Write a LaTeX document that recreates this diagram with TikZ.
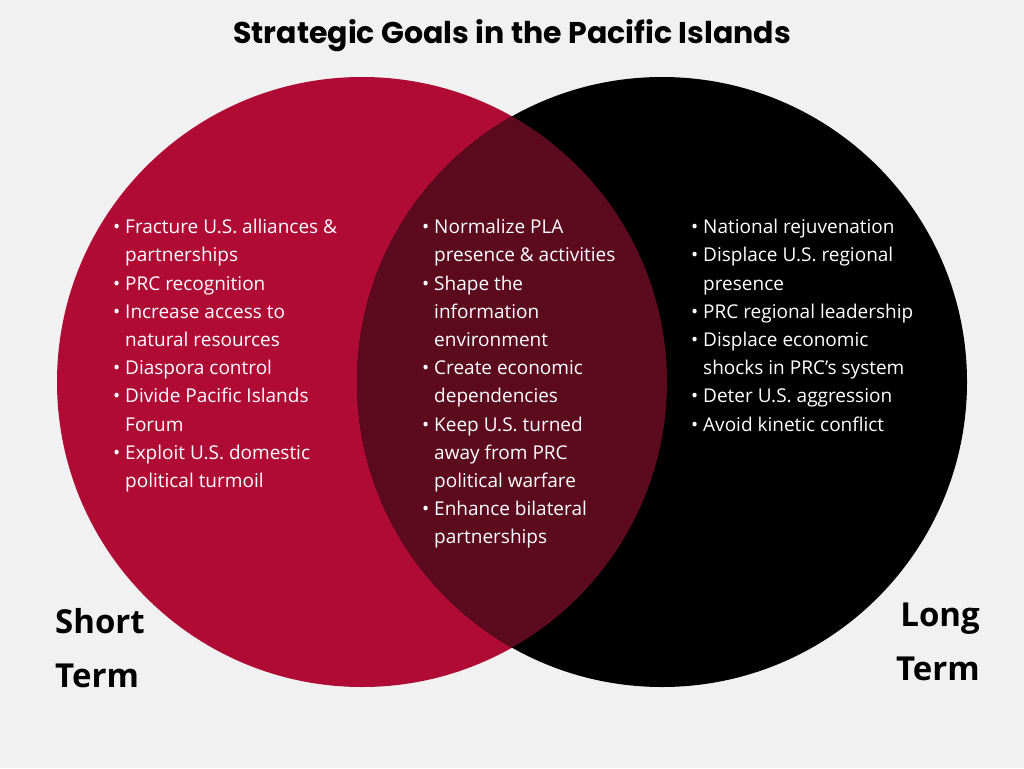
\documentclass[tikz,border=0pt]{standalone}
\usepackage{fontspec}
\setmainfont{Open Sans}
\newfontfamily\titlefont{Poppins}
\usepackage{enumitem}
\definecolor{bgray}{HTML}{F0F1F0}
\definecolor{goalred}{HTML}{B00B35}
\definecolor{overlapred}{HTML}{5C0A1E}
\setlist[itemize]{leftmargin=18pt,itemsep=0pt,topsep=0pt,parsep=0pt,label=\textbullet}
\begin{document}
\begin{tikzpicture}[x=1pt,y=-1pt,
    goallist/.style={anchor=north west,text=white,font=\fontsize{19}{28.2}\selectfont,inner sep=0pt,align=left},
    termlabel/.style={font=\fontsize{33}{54}\selectfont\bfseries,inner sep=0pt}]
  \fill[bgray] (0,0) rectangle (1024,768);
  \node[font=\titlefont\fontsize{30}{36}\selectfont\bfseries] (title) at (512,36) {Strategic Goals in the Pacific Islands};
  % circles
  \fill[goalred] (362,382) circle (305);
  \fill[black] (662,382) circle (305);
  \begin{scope}
    \clip (362,382) circle (305);
    \fill[overlapred] (662,382) circle (305);
  \end{scope}
  % goal lists
  \node[goallist] (shortlist) at (107,219) {\begin{minipage}{280pt}\begin{itemize}
    \item Fracture U.S. alliances \&\newline partnerships
    \item PRC recognition
    \item Increase access to\newline natural resources
    \item Diaspora control
    \item Divide Pacific Islands\newline Forum
    \item Exploit U.S. domestic\newline political turmoil
  \end{itemize}\end{minipage}};
  \node[goallist] (bothlist) at (416,219) {\begin{minipage}{260pt}\begin{itemize}
    \item Normalize PLA\newline presence \& activities
    \item Shape the\newline information\newline environment
    \item Create economic\newline dependencies
    \item Keep U.S. turned\newline away from PRC\newline political warfare
    \item Enhance bilateral\newline partnerships
  \end{itemize}\end{minipage}};
  \node[goallist] (longlist) at (685,219) {\begin{minipage}{280pt}\begin{itemize}
    \item National rejuvenation
    \item Displace U.S. regional\newline presence
    \item PRC regional leadership
    \item Displace economic\newline shocks in PRC’s system
    \item Deter U.S. aggression
    \item Avoid kinetic conflict
  \end{itemize}\end{minipage}};
  % term labels
  \node[termlabel,anchor=west,align=left] (shortterm) at (55,648) {Short\\Term};
  \node[termlabel,anchor=east,align=right] (longterm) at (980,642) {Long\\Term};
\end{tikzpicture}
\end{document}
